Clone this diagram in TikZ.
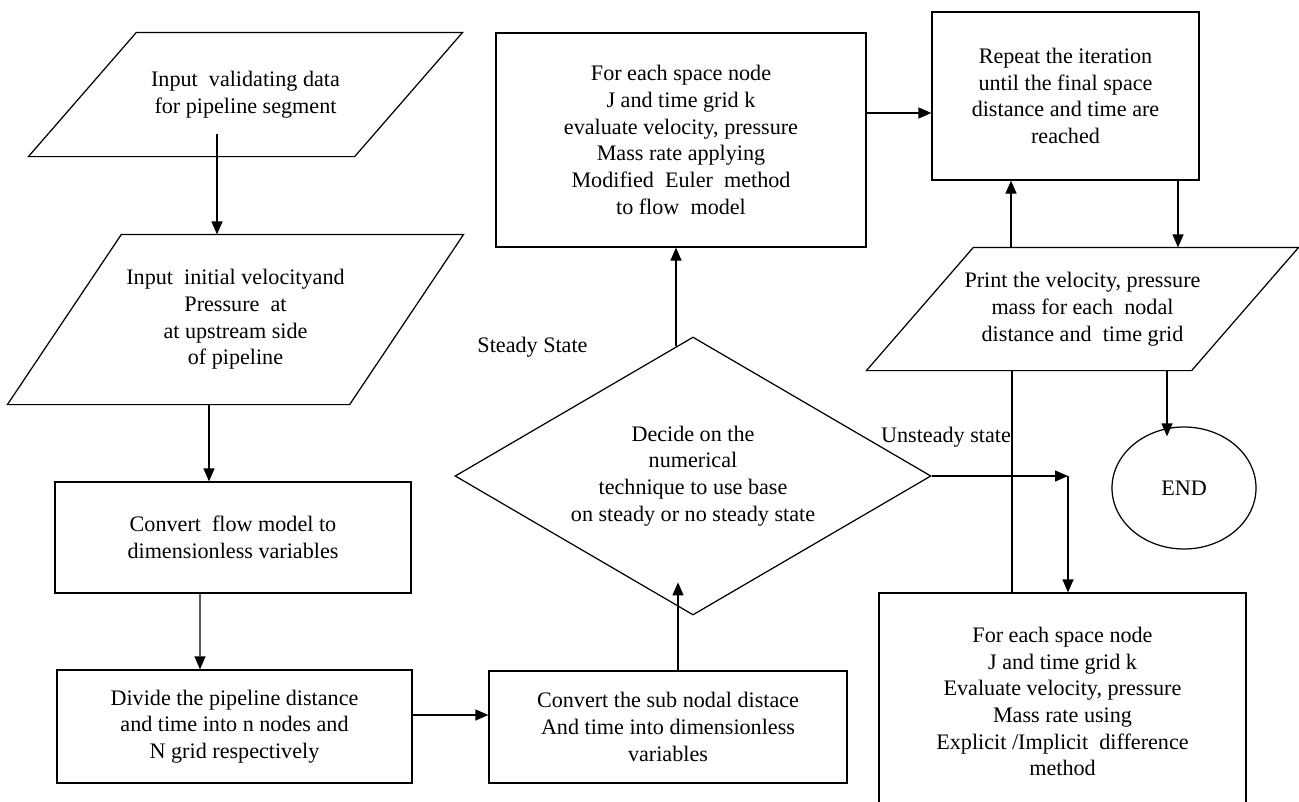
\documentclass[tikz,border=0pt]{standalone}
\usepackage{fontspec}
\setmainfont{Liberation Serif}
\usetikzlibrary{shapes.geometric,arrows.meta}
\newcommand{\slantbox}[2]{\draw ([xshift=#2]#1.north west) -- (#1.north east) -- ([xshift=-#2]#1.south east) -- (#1.south west) -- cycle;}
\tikzset{
  every node/.style={align=center,font=\fontsize{12.6}{15.2}\selectfont},
  arr/.style={-{Triangle[length=0.26cm,width=0.22cm]}},
  procbox/.style={draw,rectangle,inner sep=0pt},
  iobox/.style={rectangle,inner sep=0pt},
  decbox/.style={draw,diamond,aspect=1.7,inner sep=0pt},
  endbox/.style={draw,ellipse,inner sep=0pt}
}
\begin{document}
\begin{tikzpicture}[line width=0.7pt]
\useasboundingbox (0,0) rectangle (25.98,-16.02);
\clip (0,0) rectangle (25.98,-16.02);
\node[iobox,minimum width=8.66cm,minimum height=2.46cm] (inp1) at (4.91,-1.89) {Input\ \ validating data\\for pipeline segment};
\node[iobox,minimum width=9.10cm,minimum height=3.38cm] (inp2) at (4.71,-6.39) {Input\ \ initial velocityand\\Pressure\ \ at\\at upstream side\\of pipeline};
\node[procbox,minimum width=7.12cm,minimum height=2.22cm] (conv1) at (4.66,-10.75) {Convert\ \ flow model to\\dimensionless variables};
\node[procbox,minimum width=7.10cm,minimum height=2.26cm] (divide) at (4.69,-14.53) {Divide the pipeline distance\\and time into n nodes and\\N grid respectively};
\node[procbox,minimum width=7.16cm,minimum height=2.24cm] (convsub) at (13.36,-14.54) {Convert the sub nodal distace\\And time into dimensionless\\variables};
\node[decbox,minimum width=9.52cm,minimum height=5.56cm] (dec) at (13.86,-9.52) {Decide on the\\numerical\\technique to use base\\on steady or no steady state};
\node[procbox,minimum width=7.40cm,minimum height=4.28cm] (steady) at (13.62,-2.80) {For each space node\\J and time grid k\\evaluate velocity, pressure\\Mass rate applying\\Modified\ \ Euler\ \ method\\to flow\ \ model};
\node[procbox,minimum width=5.34cm,minimum height=3.36cm] (rep) at (21.31,-1.92) {Repeat the iteration\\until the final space\\distance and time are\\reached};
\node[iobox,minimum width=8.62cm,minimum height=2.44cm] (print) at (21.65,-6.18) {Print the velocity, pressure\\mass for each\ \ nodal\\distance and\ \ time grid};
\node[endbox,minimum width=2.88cm,minimum height=2.44cm] (fin) at (23.68,-9.76) {END};
\node[procbox,minimum width=7.34cm,minimum height=4.34cm] (unst) at (21.25,-14.03) {For each space node\\J and time grid k\\Evaluate velocity, pressure\\Mass rate using\\Explicit /Implicit\ \ difference\\method};
\node (lsteady) at (10.65,-6.94) {Steady State};
\node (lunsteady) at (18.92,-8.74) {Unsteady state};
\slantbox{inp1}{2.16cm}
\slantbox{inp2}{2.28cm}
\slantbox{print}{2.14cm}
\draw[arr] ([shift={(-0.57,-0.79)}]inp1.center) coordinate (a1) -- (a1 |- inp2.north);
\draw[arr] ([xshift=-0.48cm]conv1.north |- inp2.south) -- ([xshift=-0.48cm]conv1.north);
\draw[arr] ([xshift=-0.66cm]conv1.south) -- ([xshift=-0.69cm]divide.north);
\draw[arr] ([yshift=0.23cm]divide.east) coordinate (a2) -- (a2 -| convsub.west);
\draw[arr] ([xshift=0.2cm]convsub.north) -- ++(0,1.76);
\draw[arr] ([shift={(-0.34,-0.2)}]dec.north) coordinate (a3) -- (a3 |- steady.south);
\draw[arr] ([yshift=0.54cm]steady.east) coordinate (a4) -- (a4 -| rep.west);
\draw[arr] ([xshift=-1.09cm]rep.south |- print.north) -- ([xshift=-1.09cm]rep.south);
\draw[arr] ([xshift=2.25cm]rep.south) coordinate (a5) -- (a5 |- print.north);
\draw ([xshift=-1.01cm]unst.north) coordinate (a6) -- (a6 |- print.south);
\draw[arr] ([xshift=-0.34cm]fin.north |- print.south) -- ([shift={(-0.34,-0.2)}]fin.north);
\draw[arr] (dec.east) -- ([xshift=0.11cm]dec.east -| unst.north) coordinate (a7);
\draw[arr] (a7) -- (a7 |- unst.north);
\end{tikzpicture}
\end{document}
